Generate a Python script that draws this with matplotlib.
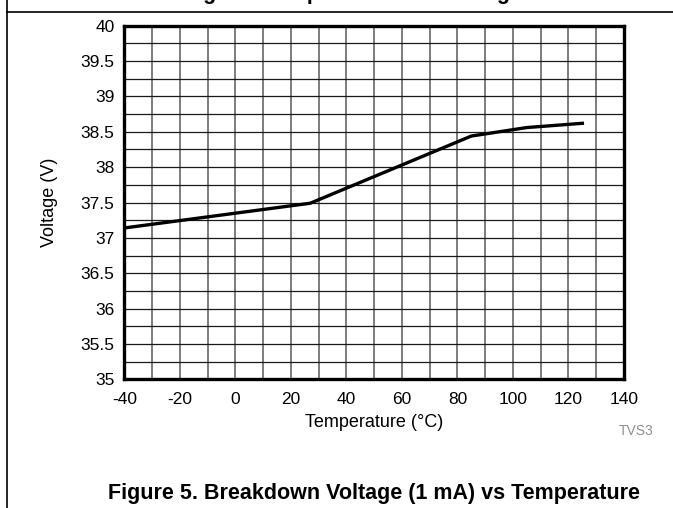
import matplotlib
matplotlib.use("Agg")
import matplotlib.pyplot as plt
from matplotlib.lines import Line2D
import numpy as np

# breakdown voltage (1 mA) vs temperature
temp_c = [-40, 27, 85, 105, 125]
volts = [37.14, 37.49, 38.44, 38.56, 38.62]

x_ticks = [-40, -20, 0, 20, 40, 60, 80, 100, 120, 140]
y_ticks = [35, 35.5, 36, 36.5, 37, 37.5, 38, 38.5, 39, 39.5, 40]
y_tick_labels = ["35", "35.5", "36", "36.5", "37", "37.5", "38", "38.5", "39", "39.5", "40"]

plt.rcParams['font.family'] = ['Liberation Sans', 'DejaVu Sans']
plt.rcParams['axes.unicode_minus'] = False

fig = plt.figure(figsize=(6.73, 5.08), dpi=100)
ax = fig.add_axes([0.1847, 0.2533, 0.7425, 0.6961])

# grid: every 10 C and every 0.25 V
for t in np.arange(-30, 140, 10):
    ax.axvline(t, color='#5a5a5a', lw=1.1, zorder=1)
for v in np.arange(35.25, 40, 0.25):
    ax.axhline(v, color='#1a1a1a', lw=0.9, zorder=1)

ax.plot(temp_c, volts, color='black', lw=2.4, zorder=3)

ax.set_xlim(-40, 140)
ax.set_ylim(35, 40)
ax.set_xticks(x_ticks)
ax.set_yticks(y_ticks)
ax.set_yticklabels(y_tick_labels)
ax.tick_params(length=0, labelsize=12.5, pad=7)
ax.tick_params(axis='x', pad=9)
for s in ax.spines.values():
    s.set_linewidth(2.4)
    s.set_zorder(4)

ax.set_xlabel("Temperature (\u00b0C)", fontsize=13, labelpad=5)
ax.set_ylabel("Voltage (V)", fontsize=13, labelpad=16)

fig.text(0.945, 0.151, "TVS3", fontsize=10, color='#909090', ha='center', va='center')

fig.text(0.556, 0.029, "Figure 5. Breakdown Voltage (1 mA) vs Temperature",
         fontsize=15.5, fontweight='bold', ha='center', va='center')

# top of the page: previous caption cut off, frame lines
fig.text(0.045, 1.002, "Breakdown Voltage vs Temperature at Working Current",
         fontsize=15.5, fontweight='bold', ha='left', va='baseline')
fig.add_artist(Line2D([0.0108, 1.0], [0.977, 0.977], color='black', lw=1.2))
fig.add_artist(Line2D([0.0108, 0.0108], [0.0, 1.0], color='black', lw=1.2))

fig.savefig("out.png", dpi=100)
